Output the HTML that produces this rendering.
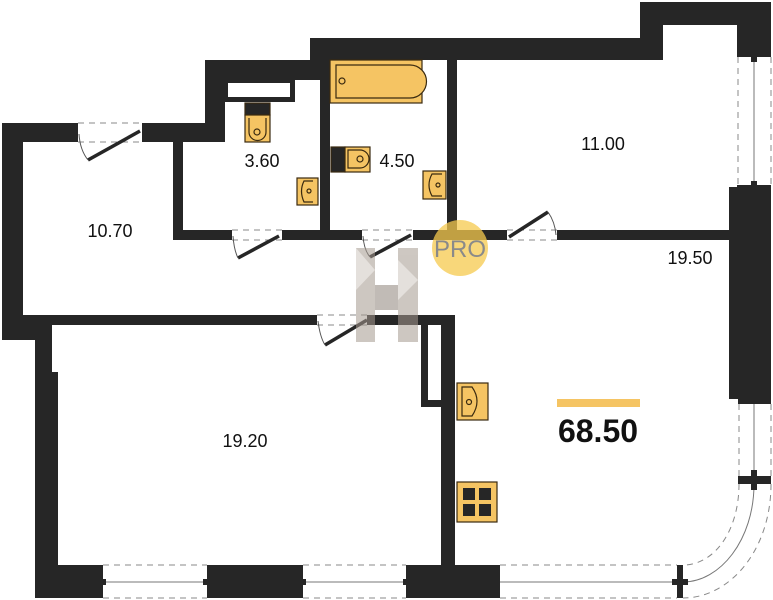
<!DOCTYPE html>
<html><head><meta charset="utf-8"><style>
html,body{margin:0;padding:0;background:#fff}
svg{display:block}
text{font-family:"Liberation Sans",sans-serif}
</style></head><body>
<svg width="773" height="600" viewBox="0 0 773 600" xmlns="http://www.w3.org/2000/svg">
<rect width="773" height="600" fill="#fff"/>
<g fill="#262626">
<!-- left wall -->
<rect x="2" y="123" width="21" height="217"/>
<rect x="2" y="315" width="50" height="25"/>
<rect x="35" y="315" width="17" height="283"/>
<rect x="52" y="372" width="6" height="193"/>
<!-- top wall left -->
<rect x="2" y="123" width="76" height="19"/>
<rect x="142" y="123" width="83" height="19"/>
<rect x="205" y="60" width="20" height="82"/>
<rect x="205" y="60" width="125" height="20"/>
<rect x="310" y="38" width="353" height="22"/>
<rect x="640" y="2" width="23" height="58"/>
<rect x="640" y="2" width="131" height="23"/>
<rect x="737" y="2" width="34" height="55"/>
<rect x="729" y="187" width="42" height="212"/>
<!-- 3.60 room -->
<rect x="173" y="142" width="10" height="98"/>
<rect x="225" y="80" width="70" height="22"/>
<rect x="320" y="60" width="10" height="180"/>
<rect x="447" y="60" width="10" height="175"/>
<!-- horizontal wall y230 -->
<rect x="173" y="230" width="59" height="10"/>
<rect x="282" y="230" width="80" height="10"/>
<rect x="413" y="230" width="94" height="10"/>
<rect x="557" y="230" width="172" height="10"/>
<!-- 10.70 / 19.20 wall -->
<rect x="23" y="315" width="294" height="10"/>
<rect x="367" y="315" width="88" height="10"/>
<rect x="441" y="317" width="14" height="250"/>
<rect x="421" y="317" width="20" height="90"/>
<!-- bottom -->
<rect x="35" y="565" width="68" height="33"/>
<rect x="207" y="565" width="96" height="33"/>
<rect x="406" y="565" width="94" height="33"/>
<rect x="677" y="565" width="6" height="33"/>
<rect x="738" y="476" width="33" height="8"/>
<rect x="738" y="399" width="33" height="5"/>
<rect x="737" y="52" width="34" height="5"/>
<rect x="737" y="185" width="34" height="4"/>
</g>
<rect x="228" y="83" width="62" height="14" fill="#fff"/>
<rect x="428" y="325" width="13" height="75" fill="#fff"/>
<!-- windows -->
<g stroke="#777" stroke-width="1" fill="none">
<line x1="103" y1="582" x2="207" y2="582"/>
<line x1="303" y1="582" x2="406" y2="582"/>
<line x1="500" y1="582" x2="677" y2="582"/>
<line x1="754" y1="57" x2="754" y2="185"/>
<line x1="754" y1="404" x2="754" y2="476"/>
<path d="M754,484 C754,540 720,582 683,582"/>
</g>
<g stroke="#888" stroke-width="1" fill="none" stroke-dasharray="6,5">
<line x1="103" y1="565" x2="207" y2="565"/><line x1="103" y1="598" x2="207" y2="598"/>
<line x1="303" y1="565" x2="406" y2="565"/><line x1="303" y1="598" x2="406" y2="598"/>
<line x1="500" y1="565" x2="677" y2="565"/><line x1="500" y1="598" x2="677" y2="598"/>
<line x1="738" y1="57" x2="738" y2="185"/><line x1="771" y1="57" x2="771" y2="185"/>
<line x1="739" y1="404" x2="739" y2="476"/><line x1="771" y1="404" x2="771" y2="476"/>
<path d="M739,484 C739,530 715,565 683,565"/>
<path d="M771,484 C771,550 730,598 683,598"/>
<!-- door dashes -->
<line x1="78" y1="123" x2="142" y2="123"/><line x1="78" y1="142" x2="142" y2="142"/>
<line x1="232" y1="230" x2="282" y2="230"/><line x1="232" y1="240" x2="282" y2="240"/>
<line x1="362" y1="230" x2="413" y2="230"/><line x1="362" y1="240" x2="413" y2="240"/>
<line x1="507" y1="230" x2="557" y2="230"/><line x1="507" y1="240" x2="557" y2="240"/>
<line x1="317" y1="315" x2="367" y2="315"/><line x1="317" y1="325" x2="367" y2="325"/>
</g>
<g fill="#262626">
<rect x="100" y="579" width="6" height="6"/><rect x="203" y="579" width="6" height="6"/>
<rect x="300" y="579" width="6" height="6"/><rect x="403" y="579" width="6" height="6"/>
<rect x="751" y="57" width="6" height="5"/><rect x="751" y="181" width="6" height="5"/>
<rect x="751" y="470" width="6" height="20"/><rect x="672" y="579" width="16" height="6"/>
</g>
<!-- door leaves -->
<g stroke="#262626" stroke-width="3.5" fill="none">
<line x1="88" y1="160" x2="140" y2="131"/>
<line x1="238" y1="258" x2="279" y2="236"/>
<line x1="370" y1="257" x2="411" y2="235"/>
<line x1="509" y1="237" x2="548" y2="212"/>
<line x1="325" y1="345" x2="367" y2="320"/>
</g>
<g stroke="#555" stroke-width="1" fill="none">
<path d="M79,134 Q80,150 88,160"/><path d="M233,236 Q234,250 238,258"/>
<path d="M363,236 Q364,250 370,257"/><path d="M548,212 Q555,222 556,235"/>
<path d="M318,321 Q320,337 325,345"/>
</g>
<!-- fixtures -->
<g stroke="#3a2a10" stroke-width="1.2">
<rect x="245" y="103" width="25" height="12" fill="#262626"/>
<rect x="245" y="115" width="25" height="27" fill="#f5c463"/>
<rect x="297" y="178" width="21" height="27" fill="#f5c463"/>
<rect x="330" y="60" width="92" height="43" fill="#f5c463"/>
<path d="M336,65 H410 A16,16 0 0 1 410,98 H336 Z" fill="#f5c463"/>
<rect x="331" y="147" width="14" height="25" fill="#262626"/>
<rect x="345" y="147" width="25" height="25" fill="#f5c463"/>
<rect x="423" y="171" width="23" height="28" fill="#f5c463"/>
<rect x="457" y="383" width="31" height="37" fill="#f5c463"/>
<rect x="457" y="482" width="40" height="40" fill="#f5c463"/>
</g>
<g fill="none" stroke="#3a2a10" stroke-width="1.2">
<path d="M249,118 V132 A8,8 0 0 0 266,132 V118"/>
<path d="M313,181 H304 Q299,191 304,202 H313"/>
<path d="M348,150 V168 H360 A9,9 0 0 0 360,150 Z"/>
<path d="M442,174 H432 Q426,185 432,196 H442"/>
<path d="M462,387 V416 H472 Q482,401 472,387 Z"/>
<circle cx="257" cy="132" r="3"/><circle cx="309" cy="191" r="2"/><circle cx="342" cy="81" r="3"/>
<circle cx="360" cy="159" r="3"/><circle cx="438" cy="185" r="2"/><circle cx="469" cy="402" r="2.5"/>
</g>
<g fill="#262626">
<rect x="463" y="488" width="12" height="12"/><rect x="479" y="488" width="12" height="12"/>
<rect x="463" y="504" width="12" height="12"/><rect x="479" y="504" width="12" height="12"/>
</g>
<!-- watermark -->
<g opacity="0.55">
<rect x="356" y="248" width="19" height="94" fill="#a69a90"/>
<rect x="398" y="248" width="20" height="94" fill="#a69a90"/>
<rect x="375" y="285" width="23" height="25" fill="#8f857c"/>
<polygon points="356,248 375,270 356,290" fill="#cfc7c0"/>
<polygon points="398,260 418,280 398,300" fill="#cfc7c0"/>
</g>
<circle cx="460" cy="248" r="28" fill="#f6c94e" opacity="0.75"/>
<text x="460" y="257" font-size="24" fill="#8a8a8a" text-anchor="middle">PRO</text>
<!-- labels -->
<g font-size="18" fill="#111" text-anchor="middle">
<text x="262" y="167">3.60</text>
<text x="397" y="167">4.50</text>
<text x="110" y="237">10.70</text>
<text x="603" y="150">11.00</text>
<text x="690" y="264">19.50</text>
<text x="245" y="447">19.20</text>
</g>
<rect x="557" y="399" width="83" height="8" fill="#f5c463"/>
<text x="598" y="442" font-size="32" font-weight="bold" fill="#111" text-anchor="middle">68.50</text>
</svg>
</body></html>
